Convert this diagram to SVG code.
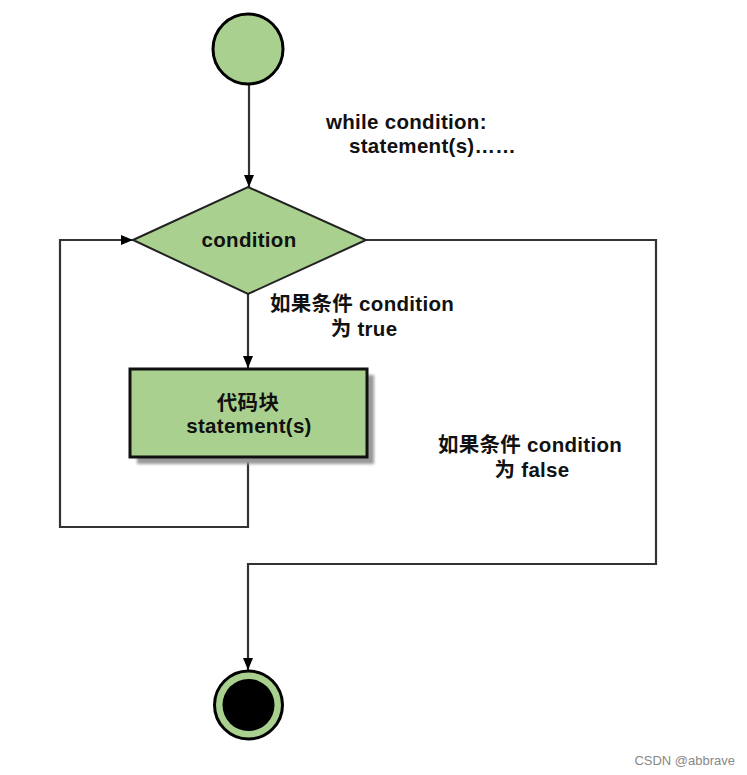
<svg xmlns="http://www.w3.org/2000/svg" width="747" height="775" viewBox="0 0 747 775">
<defs>
<style>
.t{font-family:"Liberation Sans","Noto Sans CJK SC",Arial,sans-serif;font-weight:bold;font-size:20.5px;letter-spacing:0.3px;fill:#111}
.c{text-anchor:middle}
.ln{fill:none;stroke:#333;stroke-width:2.2}
.g{fill:#a9d08e}
</style>
<marker id="arr" viewBox="0 0 12 10" refX="12" refY="5" markerWidth="12" markerHeight="10" markerUnits="userSpaceOnUse" orient="auto">
<path d="M0,0 L12,5 L0,10 Z" fill="#000"/>
</marker>
<filter id="sh" x="-10%" y="-10%" width="130%" height="130%"><feGaussianBlur stdDeviation="1.5"/></filter>
</defs>
<rect width="747" height="775" fill="#fff"/>
<g id="connectors">
<path class="ln" d="M249,85 V187" marker-end="url(#arr)"/>
<path class="ln" d="M248,294 V368" marker-end="url(#arr)"/>
<path class="ln" d="M248,457 V527 H60 V240 H133" marker-end="url(#arr)"/>
<path class="ln" d="M366,240 H656 V564 H248 V670" marker-end="url(#arr)"/>
</g>
<g id="start">
<circle class="g" cx="248" cy="49" r="35" stroke="#000" stroke-width="3"/>
</g>
<g id="note">
<text class="t" x="326" y="129">while condition:</text>
<text class="t" x="349" y="153">statement(s)……</text>
</g>
<g id="condition">
<polygon class="g" points="133,240 248,187 366,240 248,294" stroke="#222" stroke-width="2"/>
<text class="t c" x="249" y="247">condition</text>
</g>
<g id="true-label">
<text class="t c" x="362" y="311">如果条件 condition</text>
<text class="t c" x="364" y="336">为 true</text>
</g>
<g id="block">
<rect x="137" y="375" width="237" height="89" fill="#999" filter="url(#sh)"/>
<rect class="g" x="130" y="369" width="237" height="88" stroke="#111" stroke-width="3"/>
<text class="t c" x="248" y="410">代码块</text>
<text class="t c" x="249" y="433">statement(s)</text>
</g>
<g id="false-label">
<text class="t c" x="530" y="452">如果条件 condition</text>
<text class="t c" x="532" y="477">为 false</text>
</g>
<g id="end">
<circle class="g" cx="248.5" cy="705" r="34" stroke="#000" stroke-width="3"/>
<circle cx="248.5" cy="705" r="26" fill="#000"/>
</g>
<text x="735" y="765" text-anchor="end" font-family="'Liberation Sans','Noto Sans',sans-serif" font-size="13" fill="#888">CSDN @abbrave</text>
</svg>
